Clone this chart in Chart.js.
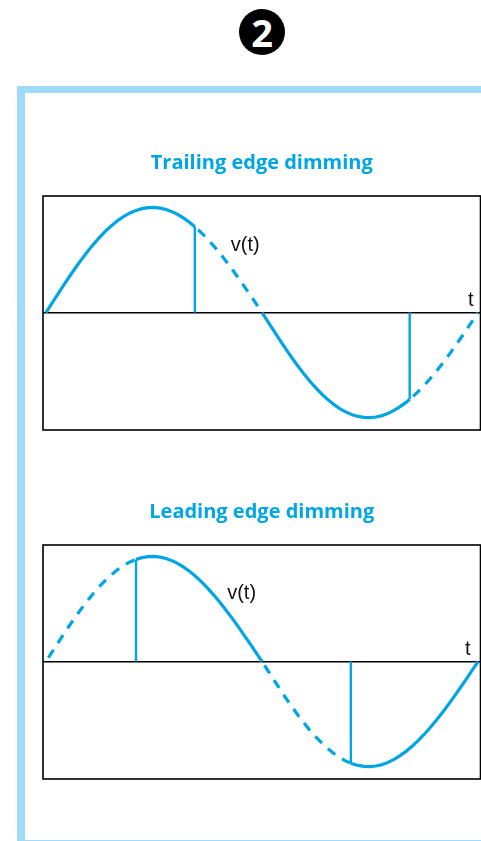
<!DOCTYPE html>
<html><head><meta charset="utf-8">
<script src="https://cdn.jsdelivr.net/npm/chart.js@4"></script>
<style>
html,body{margin:0;padding:0;background:#fff;width:481px;height:841px;overflow:hidden}
#frame{position:absolute;left:17px;top:86px;width:464px;height:755px;box-sizing:border-box;border-left:8px solid #9fdbf9;border-top:7px solid #9fdbf9;border-bottom:1px solid #9fdbf9}
#badge{position:absolute;left:239px;top:9px;width:46px;height:46px;border-radius:50%;background:#000;color:#fff;font:700 38px/46px "Open Sans",sans-serif;text-align:center}
canvas{position:absolute;left:41px}
#c1{top:139px}#c2{top:488px}
</style></head><body>
<div id="frame"></div><div id="badge">2</div>
<canvas id="c1" width="440" height="300"></canvas>
<canvas id="c2" width="440" height="300"></canvas>
<script>
const titles = ["Trailing edge dimming", "Leading edge dimming"];
const waveT = [0,5,10,15,20,25,30,35,40,45,50,55,60,65,70,75,80,85,90,95,100,105,110,115,120,124,125,130,135,140,145,150,155,160,165,170,175,180,185,190,195,200,205,210,215,220,225,230,235,240,245,250,254,255,260,265,270,275,280,285,290,295,300,303,305,310,315,320,325,330,335,340,345,350,355,360];
const waveV = [0,.089,.178,.265,.35,.433,.511,.586,.656,.72,.779,.831,.877,.916,.948,.972,.989,.998,1,.994,.981,.96,.932,.896,.855,.817,.807,.753,.694,.63,.562,.489,.413,.334,.252,.17,.085,0,-.089,-.178,-.265,-.35,-.433,-.511,-.586,-.656,-.72,-.779,-.831,-.877,-.916,-.948,-.967,-.972,-.989,-.998,-1,-.994,-.981,-.96,-.932,-.896,-.855,-.826,-.807,-.753,-.694,-.63,-.562,-.489,-.413,-.334,-.252,-.17,-.085,0];
const trailingSolid = [[0,124],[180,303]];
const trailingDashed = [[124,180],[303,360]];
const leadingSolid = [[75,180],[254,360]];
const leadingDashed = [[0,75],[180,254]];
const trailingCuts = [124,303];
const leadingCuts = [75,254];
const BLUE = "#00a5e3";

const pts = r => waveT.map((t,i)=>({x:t,y:waveV[i]})).filter(p=>p.x>=r[0]&&p.x<=r[1]);
const valueAt = t => waveV[waveT.indexOf(t)];
function datasets(solid,dashed,cuts){
  return [
    ...solid.map(r=>({data:pts(r),borderColor:BLUE,borderWidth:3.2,pointRadius:0,tension:0,clip:false})),
    ...dashed.map(r=>({data:pts(r),borderColor:BLUE,borderWidth:3.2,pointRadius:0,tension:0,borderDash:[9.5,8],borderDashOffset:13,clip:false})),
    ...cuts.map(t=>({data:[{x:t,y:0},{x:t,y:valueAt(t)}],borderColor:BLUE,borderWidth:2.4,pointRadius:0,clip:false}))
  ];
}
const annot = {id:"annot",afterDraw(c,_,o){
  const g=c.ctx,a=c.chartArea;
  g.save();g.strokeStyle="#000";g.lineWidth=1.6;g.strokeRect(a.left,a.top,a.width,a.height);
  g.fillStyle="#111";g.font='20px "Liberation Sans"';g.textAlign="center";g.textBaseline="middle";
  o.labels.forEach(l=>g.fillText(l.text,c.scales.x.getPixelForValue(l.x),c.scales.y.getPixelForValue(l.y)));
  g.restore();
}};
function make(id,title,ds,labels){
  new Chart(document.getElementById(id),{type:"line",data:{datasets:ds},plugins:[annot],
  options:{responsive:false,animation:false,
    layout:{padding:{left:2,right:0.5,bottom:9,top:0}},
    plugins:{legend:{display:false},tooltip:{enabled:false},annot:{labels},
      title:{display:true,text:title,color:BLUE,font:{family:"Open Sans",weight:"bold",size:20},padding:{top:12,bottom:21}}},
    scales:{
      x:{type:"linear",min:-2.5,max:362,display:false},
      y:{min:-1.118,max:1.109,border:{display:false},ticks:{display:false},
         grid:{color:"#000",lineWidth:1.6,drawTicks:false},
         afterBuildTicks:s=>{s.ticks=[{value:0}]}}
    }}});
}
make("c1",titles[0],datasets(trailingSolid,trailingDashed,trailingCuts),[{text:"v(t)",x:166,y:.64},{text:"t",x:354,y:.11}]);
make("c2",titles[1],datasets(leadingSolid,leadingDashed,leadingCuts),[{text:"v(t)",x:163,y:.65},{text:"t",x:351.5,y:.11}]);
</script></body></html>
